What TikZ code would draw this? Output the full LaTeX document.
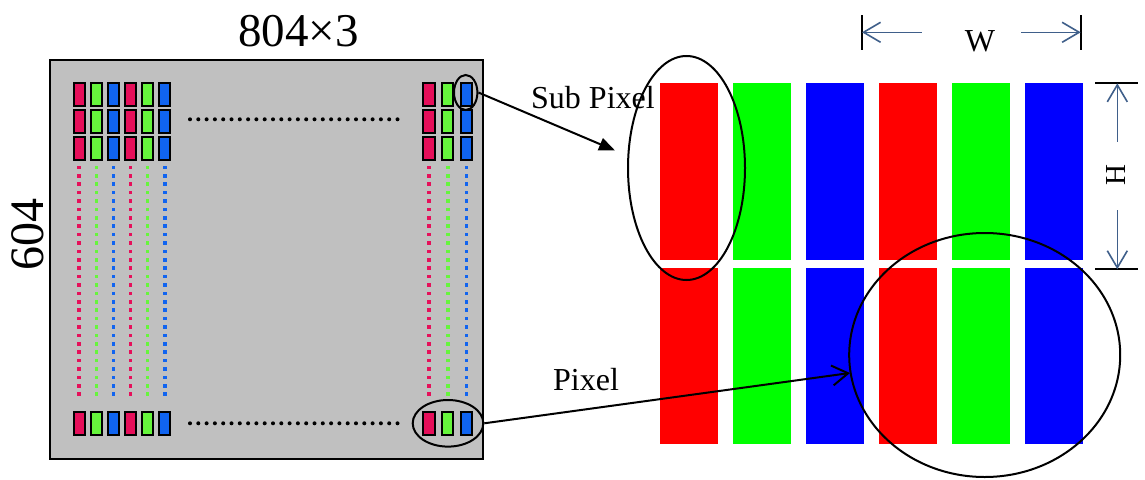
\documentclass[tikz,border=0pt]{standalone}
\usepackage{graphicx}
\usepackage{fontspec}
\setmainfont{Liberation Serif}
\usetikzlibrary{shapes.geometric,arrows.meta}

\definecolor{panelgray}{HTML}{C0C0C0}
\definecolor{cR}{HTML}{E60F5A}
\definecolor{cG}{HTML}{66F53C}
\definecolor{cB}{HTML}{1064F0}
\definecolor{dimblue}{HTML}{3F5F8A}

\tikzset{
  cell/.style={draw=black, line width=2},
  ring/.style={ellipse, draw=black, line width=2, inner sep=0pt},
  pointer/.style={draw=black, line width=2},
  dimline/.style={draw=dimblue, line width=1.6, -{Straight Barb[length=17pt,width=20pt,line width=1.6]}},
  dimbar/.style={draw=black, line width=2},
  lbl/.style={inner sep=0pt, anchor=base}
}

\begin{document}
\begin{tikzpicture}[x=1pt,y=-1pt]
  \useasboundingbox[fill=white] (0,0) rectangle (1145,479);

  % display panel
  \draw[fill=panelgray, line width=2] (50,59.5) rectangle (483,459);

  % top-left block of sub-pixels (3 rows x 6 columns) and bottom-left row
  \foreach \col/\c in {0/cR,1/cG,2/cB,3/cR,4/cG,5/cB}{
    \foreach \row in {0,1,2}{
      \draw[cell, fill=\c] ({73.6+17.1*\col}, {83.2+26.85*\row}) rectangle ++(11.3,22.9);
    }
    \draw[cell, fill=\c] ({73.6+17.1*\col}, 411.6) rectangle ++(11.3,22.9);
    \foreach \i in {0,...,27}{
      \fill[\c] ({79.2+17.1*\col-1.8}, {165.5+8.4*\i}) rectangle ++(3.6,3.6);
    }
  }

  % top-right block (3 rows x 3 columns) and bottom-right row
  \foreach \col/\c in {0/cR,1/cG,2/cB}{
    \foreach \row in {0,1,2}{
      \draw[cell, fill=\c] ({423.4+18.75*\col}, {83.2+26.85*\row}) rectangle ++(11.3,22.9);
    }
    \draw[cell, fill=\c] ({423.4+18.75*\col}, 411.6) rectangle ++(11.3,22.9);
    \foreach \i in {0,...,27}{
      \fill[\c] ({429.1+18.75*\col-1.8}, {165.5+8.4*\i}) rectangle ++(3.6,3.6);
    }
  }

  % horizontal ellipsis dots
  \foreach \i in {0,...,25}{
    \fill[black] ({190+8.3*\i}, 119.3) circle (2);
    \fill[black] ({190+8.3*\i}, 423.3) circle (2);
  }

  % enlarged sub-pixel bars
  \foreach \i/\c in {0/red,1/green,2/blue,3/red,4/green,5/blue}{
    \fill[\c] ({659.5+73*\i}, 83.3) rectangle ++(58.5,176.2);
    \fill[\c] ({659.5+73*\i}, 268.3) rectangle ++(58.5,175.7);
  }

  % selection rings
  \node[ring, minimum width=23.4, minimum height=35] (selsub) at (465.7,92.5) {};
  \node[ring, minimum width=70.6, minimum height=46.6] (selpix) at (448,423.3) {};
  \node[ring, minimum width=117, minimum height=224] (bigsub) at (686.5,168) {};
  \node[ring, minimum width=271, minimum height=244] (bigpix) at (984.7,355) {};

  % pointers
  \coordinate (subtip) at (615,150.5);
  \coordinate (pixtip) at (850,373);
  \draw[pointer, -{Triangle[length=16pt,width=13pt]}] (selsub.east) -- (subtip);
  \draw[pointer, -{Straight Barb[length=16pt,width=20pt,line width=2]}] (selpix.east) -- (pixtip);

  % labels
  \node[lbl] (t804) at (298.5,46) {\fontsize{47}{50}\selectfont 804×3};
  \node[lbl, rotate=90] (t604) at (43.5,234) {\fontsize{48}{52}\selectfont 604};
  \node[lbl, anchor=base west] (tsub) at (531,108) {\fontsize{32}{34}\selectfont Sub Pixel};
  \node[lbl, anchor=base west] (tpix) at (553,390) {\fontsize{32}{34}\selectfont Pixel};

  % width dimension
  \coordinate (wL) at (862,32.3);
  \coordinate (wR) at (1080.7,32.3);
  \coordinate (wLs) at (921.7,32.3);
  \coordinate (wRs) at (1021,32.3);
  \draw[dimbar] (862,15) -- (862,50);
  \draw[dimbar] (1080.7,15) -- (1080.7,50);
  \draw[dimline] (wLs) -- (wL);
  \draw[dimline] (wRs) -- (wR);
  \node[lbl] (tw) at (980,51.7) {\fontsize{32}{34}\selectfont W};

  % height dimension
  \coordinate (hT) at (1117.3,83.3);
  \coordinate (hB) at (1117.3,269.3);
  \coordinate (hTs) at (1117.3,141.7);
  \coordinate (hBs) at (1117.3,210);
  \draw[dimbar] (1095,83.3) -- (1138,83.3);
  \draw[dimbar] (1095,269.3) -- (1138,269.3);
  \draw[dimline] (hTs) -- (hT);
  \draw[dimline] (hBs) -- (hB);
  \node[lbl, rotate=90] (th) at (1125,175) {\fontsize{29}{32}\selectfont H};
\end{tikzpicture}
\end{document}
